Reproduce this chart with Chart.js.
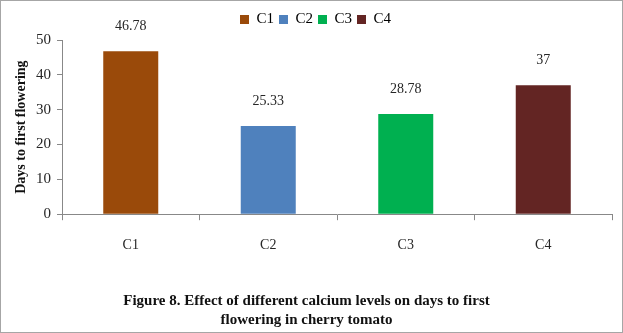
<!DOCTYPE html>
<html>
<head>
<meta charset="utf-8">
<script src="https://cdn.jsdelivr.net/npm/chart.js@4"></script>
<style>
  body { margin: 0; background: #fff; }
  #wrap { position: relative; width: 623px; height: 333px; box-sizing: border-box; border: 1px solid #a6a6a6; }
</style>
</head>
<body>
<div id="wrap"><canvas id="Chart" width="621" height="331"></canvas></div>
<script>
const categories = ['C1', 'C2', 'C3', 'C4'];
const days = [46.78, 25.33, 28.78, 37];
const dayLabels = ['46.78', '25.33', '28.78', '37'];
const yTicks = [0, 10, 20, 30, 40, 50];
const barColors = ['#9a4a0a', '#4f81bd', '#00b050', '#632523'];

const ctx = document.getElementById("Chart").getContext("2d");
const serif = "'Liberation Serif', 'Times New Roman', serif";

// value labels above each bar
const valueLabels = {
  id: 'valueLabels',
  afterDatasetsDraw(chart) {
    const c = chart.ctx;
    const meta = chart.getDatasetMeta(0);
    c.save();
    c.font = '14px ' + serif;
    c.fillStyle = '#262626';
    c.textAlign = 'center';
    c.textBaseline = 'middle';
    meta.data.forEach(function(bar, i) {
      c.fillText(dayLabels[i], bar.x, bar.y - 25);
    });
    c.restore();
  }
};

// legend sits a little right of centre and higher in the original
const legendShift = {
  id: 'legendShift',
  afterLayout(chart) {
    chart.legend.left += 9;
    chart.legend.right += 9;
    chart.legend.top -= 3;
    chart.legend.bottom -= 3;
  }
};

let my_chart = new Chart(ctx, {
  type: 'bar',
  data: {
    labels: categories,
    datasets: [{
      label: 'Days to first flowering',
      data: days,
      backgroundColor: barColors,
      borderWidth: 0,
      barPercentage: 0.4,
      categoryPercentage: 1
    }]
  },
  options: {
    responsive: false,
    animation: false,
    layout: { padding: { top: 9, right: 10, left: 0, bottom: 2 } },
    plugins: {
      legend: {
        position: 'top',
        labels: {
          boxWidth: 9,
          boxHeight: 9,
          padding: 5,
          color: '#262626',
          font: { family: serif, size: 15 },
          generateLabels: function(chart) {
            return categories.map(function(c, i) {
              return { text: c, fillStyle: barColors[i], strokeStyle: barColors[i], lineWidth: 0, index: i };
            });
          }
        }
      },
      title: {
        display: true,
        position: 'bottom',
        text: ['Figure 8. Effect of different calcium levels on days to first', 'flowering in cherry tomato'],
        color: '#111',
        font: { family: serif, size: 15, weight: 'bold', lineHeight: 1.3 },
        padding: { top: 20, bottom: 0 }
      },
      tooltip: { enabled: false }
    },
    scales: {
      x: {
        grid: { display: true, drawOnChartArea: false, offset: true, tickLength: 6, color: '#888' },
        border: { color: '#888' },
        ticks: { color: '#262626', padding: 17, font: { family: serif, size: 14 } }
      },
      y: {
        min: 0,
        max: 50,
        afterBuildTicks: function(axis) { axis.ticks = yTicks.map(v => ({ value: v })); },
        afterFit: function(axis) { axis.width = 61; },
        grid: { display: true, drawOnChartArea: false, tickLength: 5, color: '#888' },
        border: { color: '#888' },
        ticks: { color: '#262626', padding: 6, font: { family: serif, size: 15 } },
        title: {
          display: true,
          text: 'Days to first flowering',
          color: '#111',
          font: { family: serif, size: 14, weight: 'bold' },
          padding: { top: 12, bottom: 0 }
        }
      }
    }
  },
  plugins: [valueLabels, legendShift]
});
</script>
</body>
</html>
